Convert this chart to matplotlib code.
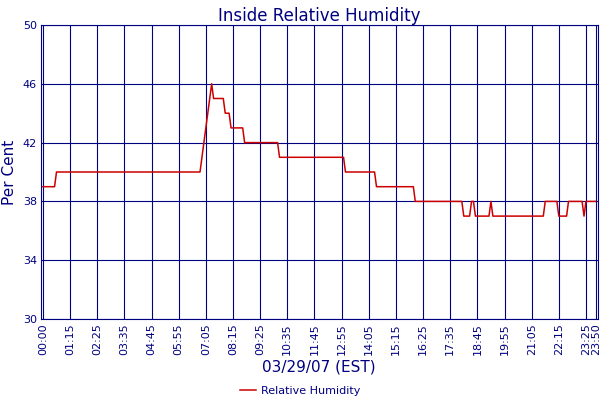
import numpy as np
import matplotlib
matplotlib.use('Agg')
import matplotlib.pyplot as plt

# Humidity readings, as step levels: value holds from start index to the next start
step_start = [0, 7, 82, 83, 84, 85, 86, 87, 88, 94, 97, 104, 122, 156, 172,
              192, 217, 221, 223, 231, 232, 259, 266, 271, 279, 280]
step_level = [39, 40, 41, 42, 43, 44, 45, 46, 45, 44, 43, 42, 41, 40, 39,
              38, 37, 38, 37, 38, 37, 38, 37, 38, 37, 38]
n_points = 286

tick_pos = [0, 14, 28, 42, 56, 70, 84, 98, 112, 126, 140, 154, 168, 182,
            196, 210, 224, 238, 252, 266, 280, 285]
tick_labels = ['00:00', '01:15', '02:25', '03:35', '04:45', '05:55', '07:05',
               '08:15', '09:25', '10:35', '11:45', '12:55', '14:05', '15:15',
               '16:25', '17:35', '18:45', '19:55', '21:05', '22:15', '23:25',
               '23:50']
y_ticks = [30, 34, 38, 42, 46, 50]

# expand step levels to one value per reading
counts = np.diff(step_start + [n_points])
humidity = np.repeat(step_level, counts)
x = np.arange(n_points)

navy = '#000080'
red = '#CC0000'

fig = plt.figure(figsize=(6, 4), dpi=100)
ax = fig.add_axes([0.0683, 0.2025, 0.9277, 0.735])

ax.plot(x, humidity, color=red, linewidth=1.1, label='Relative Humidity')

ax.set_xlim(-1, 286)
ax.set_ylim(30, 50)
ax.set_xticks(tick_pos)
ax.set_xticklabels(tick_labels, rotation=90)
ax.set_yticks(y_ticks)
ax.tick_params(axis='both', length=0, labelsize=8, labelcolor=navy, pad=3)
ax.grid(True, color=navy, linewidth=0.8)
ax.set_axisbelow(True)
for s in ax.spines.values():
    s.set_color(navy)
    s.set_linewidth(0.8)

ax.set_title('Inside Relative Humidity', color=navy, fontsize=12, pad=2)
ax.set_ylabel('Per Cent', color=navy, fontsize=11, labelpad=4)
ax.set_xlabel('03/29/07 (EST)', color=navy, fontsize=11, labelpad=3)

leg = fig.legend(loc='lower center', bbox_to_anchor=(0.5, -0.015), frameon=False,
                 fontsize=8, handlelength=1.5, handletextpad=0.4)
for t in leg.get_texts():
    t.set_color(navy)

fig.savefig('out.png', dpi=100)
